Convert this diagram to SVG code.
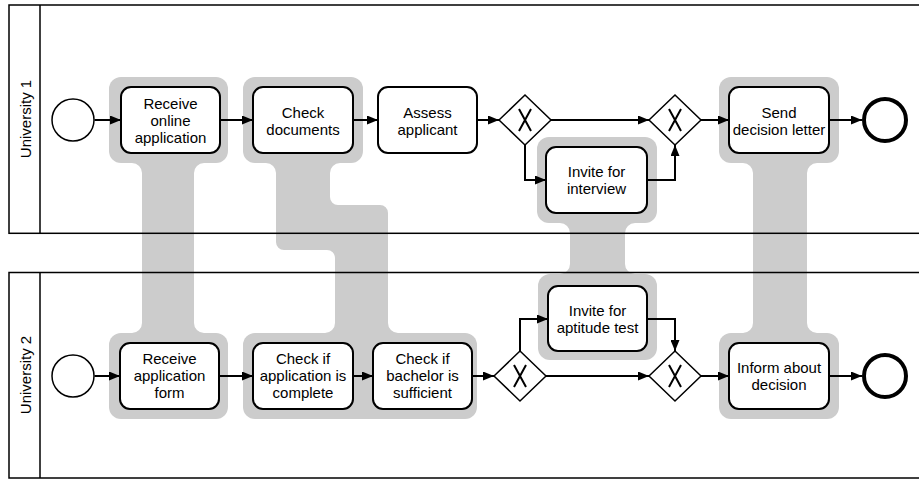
<svg xmlns="http://www.w3.org/2000/svg" width="919" height="479" viewBox="0 0 919 479">
<style>
.pool{fill:none;stroke:#000;stroke-width:1.5}
.halo{fill:#cccccc;stroke:none}
.task{fill:#fff;stroke:#000;stroke-width:2}
.ev{fill:#fff;stroke:#000;stroke-width:1.5}
.end{fill:#fff;stroke:#000;stroke-width:4}
.gw{fill:#fff;stroke:#000;stroke-width:1.5}
.gx{fill:none;stroke:#000;stroke-width:2}
.flow{fill:none;stroke:#000;stroke-width:2;marker-end:url(#arr)}
text{font-family:"Liberation Sans",Arial,sans-serif;font-size:15px;fill:#000;text-anchor:middle}
</style>
<defs>
<marker id="arr" markerUnits="userSpaceOnUse" markerWidth="12" markerHeight="9" refX="11" refY="4.5" orient="auto">
<path d="M0,0 L11,4.5 L0,9 Z" fill="#000"/>
</marker>
</defs>

<g id="halos">
<!-- halo 1 -->
<rect class="halo" x="109" y="77" width="119" height="86" rx="12"/>
<rect class="halo" x="109" y="333" width="119" height="86" rx="12"/>
<rect class="halo" x="142" y="160" width="52" height="176"/>
<path class="halo" d="M142,173 V163 H132 A10,10 0 0 1 142,173 Z"/>
<path class="halo" d="M204,163 H194 V173 A10,10 0 0 1 204,163 Z"/>
<path class="halo" d="M132,333 H142 V323 A10,10 0 0 1 132,333 Z"/>
<path class="halo" d="M194,323 V333 H204 A10,10 0 0 1 194,323 Z"/>
<!-- halo 2 -->
<rect class="halo" x="243" y="77" width="120" height="86" rx="12"/>
<rect class="halo" x="243" y="333" width="234" height="86" rx="12"/>
<path class="halo" d="M276,160 V242 A8,8 0 0 0 284,250 H327 A8,8 0 0 1 335,258 V336 H388 V213 A8,8 0 0 0 380,205 H338 A8,8 0 0 1 330,197 V160 Z"/>
<path class="halo" d="M276,173 V163 H266 A10,10 0 0 1 276,173 Z"/>
<path class="halo" d="M340,163 H330 V173 A10,10 0 0 1 340,163 Z"/>
<path class="halo" d="M325,333 H335 V323 A10,10 0 0 1 325,333 Z"/>
<path class="halo" d="M388,323 V333 H398 A10,10 0 0 1 388,323 Z"/>
<!-- halo 3 -->
<rect class="halo" x="537" y="137" width="120" height="86" rx="12"/>
<rect class="halo" x="538" y="274" width="119" height="86" rx="12"/>
<rect class="halo" x="570" y="220" width="55" height="57"/>
<path class="halo" d="M570,233 V223 H560 A10,10 0 0 1 570,233 Z"/>
<path class="halo" d="M635,223 H625 V233 A10,10 0 0 1 635,223 Z"/>
<path class="halo" d="M560,274 H570 V264 A10,10 0 0 1 560,274 Z"/>
<path class="halo" d="M625,264 V274 H635 A10,10 0 0 1 625,264 Z"/>
<!-- halo 4 -->
<rect class="halo" x="719" y="77" width="120" height="86" rx="12"/>
<rect class="halo" x="719" y="333" width="120" height="86" rx="12"/>
<rect class="halo" x="753" y="160" width="54" height="176"/>
<path class="halo" d="M753,173 V163 H743 A10,10 0 0 1 753,173 Z"/>
<path class="halo" d="M817,163 H807 V173 A10,10 0 0 1 817,163 Z"/>
<path class="halo" d="M743,333 H753 V323 A10,10 0 0 1 743,333 Z"/>
<path class="halo" d="M807,323 V333 H817 A10,10 0 0 1 807,323 Z"/>
</g>

<g id="pools">
<rect class="pool" x="9" y="5" width="915" height="228.3"/>
<line class="pool" x1="40" y1="5" x2="40" y2="233.3"/>
<text transform="translate(31,119) rotate(-90)">University 1</text>
<rect class="pool" x="9" y="272.5" width="915" height="205.5"/>
<line class="pool" x1="40" y1="272.5" x2="40" y2="478"/>
<text transform="translate(31,375) rotate(-90)">University 2</text>
</g>

<g id="connectors">
<path class="flow" d="M94.5,120 H121"/>
<path class="flow" d="M220,120 H253"/>
<path class="flow" d="M353,120 H378"/>
<path class="flow" d="M477,120 H499"/>
<path class="flow" d="M551,120 H649"/>
<path class="flow" d="M525,145 V180 H546"/>
<path class="flow" d="M647,180 H675 V145"/>
<path class="flow" d="M701,120 H729"/>
<path class="flow" d="M829,120 H862"/>
<path class="flow" d="M94.5,376 H120"/>
<path class="flow" d="M219,376 H253"/>
<path class="flow" d="M353,376 H373"/>
<path class="flow" d="M472,376 H494"/>
<path class="flow" d="M546,376 H649"/>
<path class="flow" d="M520,351 V319 H548"/>
<path class="flow" d="M647,319 H675 V351"/>
<path class="flow" d="M701,376 H729"/>
<path class="flow" d="M829,376 H862"/>
</g>

<g id="start1"><circle class="ev" cx="73" cy="120" r="21"/></g>
<g id="t_receive_online"><rect class="task" x="121" y="87" width="99" height="66" rx="10"/>
<text x="170.5" y="109">Receive</text><text x="170.5" y="126">online</text><text x="170.5" y="143">application</text></g>
<g id="t_check_docs"><rect class="task" x="253" y="87" width="100" height="66" rx="10"/>
<text x="303" y="117.5">Check</text><text x="303" y="134.5">documents</text></g>
<g id="t_assess"><rect class="task" x="378" y="87" width="99" height="66" rx="10"/>
<text x="427.5" y="117.5">Assess</text><text x="427.5" y="134.5">applicant</text></g>
<g id="gw1"><polygon class="gw" points="499,120 525,95 551,120 525,145"/><path class="gx" d="M519,109 L531,131 M531,109 L519,131"/></g>
<g id="t_interview"><rect class="task" x="546" y="147" width="101" height="66" rx="10"/>
<text x="596.5" y="177">Invite for</text><text x="596.5" y="194">interview</text></g>
<g id="gw2"><polygon class="gw" points="649,120 675,95 701,120 675,145"/><path class="gx" d="M669,109 L681,131 M681,109 L669,131"/></g>
<g id="t_send"><rect class="task" x="729" y="87" width="100" height="66" rx="10"/>
<text x="779" y="117.5">Send</text><text x="779" y="134.5">decision letter</text></g>
<g id="end1"><circle class="end" cx="885" cy="120" r="21"/></g>

<g id="start2"><circle class="ev" cx="73" cy="376" r="21"/></g>
<g id="t_receive_form"><rect class="task" x="120" y="343" width="99" height="66" rx="10"/>
<text x="169.5" y="364">Receive</text><text x="169.5" y="381">application</text><text x="169.5" y="398">form</text></g>
<g id="t_check_complete"><rect class="task" x="253" y="343" width="100" height="66" rx="10"/>
<text x="303" y="364">Check if</text><text x="303" y="381">application is</text><text x="303" y="398">complete</text></g>
<g id="t_check_bachelor"><rect class="task" x="373" y="343" width="99" height="66" rx="10"/>
<text x="422.5" y="364">Check if</text><text x="422.5" y="381">bachelor is</text><text x="422.5" y="398">sufficient</text></g>
<g id="gw3"><polygon class="gw" points="494,376 520,351 546,376 520,401"/><path class="gx" d="M514,365 L526,387 M526,365 L514,387"/></g>
<g id="t_aptitude"><rect class="task" x="548" y="286" width="99" height="65" rx="10"/>
<text x="597.5" y="316">Invite for</text><text x="597.5" y="332.5">aptitude test</text></g>
<g id="gw4"><polygon class="gw" points="649,376 675,351 701,376 675,401"/><path class="gx" d="M669,365 L681,387 M681,365 L669,387"/></g>
<g id="t_inform"><rect class="task" x="729" y="343" width="100" height="66" rx="10"/>
<text x="779" y="373">Inform about</text><text x="779" y="390">decision</text></g>
<g id="end2"><circle class="end" cx="885" cy="376" r="21"/></g>
</svg>
